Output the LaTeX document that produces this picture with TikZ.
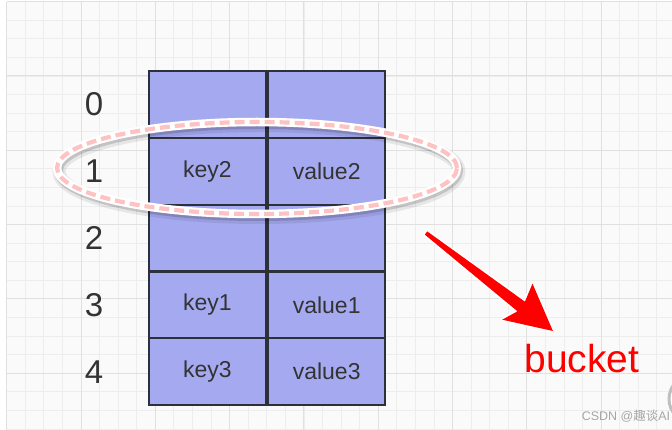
\documentclass[tikz,border=0pt]{standalone}
\usepackage{fontspec}
\setmainfont{Liberation Sans}
\newfontfamily\cjkfont{Noto Sans CJK SC}
\usetikzlibrary{positioning}
\definecolor{cellblue}{HTML}{A5AAF0}
\definecolor{cellline}{HTML}{2B303B}
\definecolor{celltext}{HTML}{333333}
\definecolor{gridminor}{HTML}{EDEDED}
\definecolor{gridmajor}{HTML}{E0E0E0}
\definecolor{ringpink}{HTML}{FFC2C2}

\begin{document}
\begin{tikzpicture}[
    x=1pt, y=-1pt,
    cell/.style={draw=cellline, line width=2.2pt, fill=cellblue,
                 minimum width=117pt, minimum height=66.8pt, inner sep=0pt,
                 font=\fontsize{23}{26}\selectfont, text=celltext},
    idx/.style={font=\fontsize{33}{36}\selectfont, text=celltext}
  ]
  % Background grid
  \useasboundingbox (0,0) rectangle (672,430);
  \fill[white] (0,0) rectangle (672,430);
  \fill[black!2] (6.7,1.7) rectangle (672,430);
  \foreach \i in {0,...,36} {
    \draw[gridminor, line width=0.8pt] (6.7+\i*18.575,1.7) -- (6.7+\i*18.575,430);
  }
  \foreach \j in {0,...,23} {
    \draw[gridminor, line width=0.8pt] (6.7,1.7+\j*18.575) -- (672,1.7+\j*18.575);
  }
  \foreach \i in {0,...,8} {
    \draw[gridmajor, line width=1pt] (6.7+\i*74.3,1.7) -- (6.7+\i*74.3,430);
  }
  \foreach \j in {0,...,5} {
    \draw[gridmajor, line width=1pt] (6.7,1.7+\j*74.3) -- (672,1.7+\j*74.3);
  }

  % Buckets
  \foreach \r/\k/\v in {0//, 1/key2/value2, 2//, 3/key1/value1, 4/key3/value3} {
    \node[cell] (k\r) at (207.5, 104.5+\r*66.8) {\k};
    \node[cell, right=0pt of k\r] (v\r) {\v};
    \node[idx] (i\r) at (94, 104.5+\r*66.8) {\r};
  }

  % Highlight ring round row 1
  \coordinate (ring) at (257,168);
  \draw[black, opacity=0.08, line width=13pt] ([shift={(2,3.5)}]ring)
    ellipse [x radius=200pt, y radius=46pt];
  \draw[black, opacity=0.15, line width=9pt] ([shift={(1.5,2.5)}]ring)
    ellipse [x radius=200pt, y radius=46pt];
  \draw[white, line width=8.5pt] (ring) ellipse [x radius=200pt, y radius=46pt];
  \draw[ringpink, line width=4.2pt, dash pattern=on 10pt off 5pt]
    (ring) ellipse [x radius=200pt, y radius=46pt];

  % Arrow to label
  \path[preaction={draw=white, line width=3pt, line join=round}, fill=red]
    (427.2,231.4) -- (524.9,301.7) -- (532.5,283.6) -- (552.9,331.0)
    -- (502.2,319.7) -- (517.5,311.3) -- (424.8,234.6) -- cycle;
  \node[font=\fontsize{39}{42}\selectfont, text=red] (bucket) at (582,359) {bucket};

  % Screen corner button and watermark
  \draw[black!25, line width=3pt, fill=white] (693,399) circle [radius=24pt];
  \node[font=\fontsize{12.5}{14}\selectfont, text=black!35] (mark) at (626,416)
    {CSDN @{\cjkfont 趣谈}AI};
\end{tikzpicture}
\end{document}
